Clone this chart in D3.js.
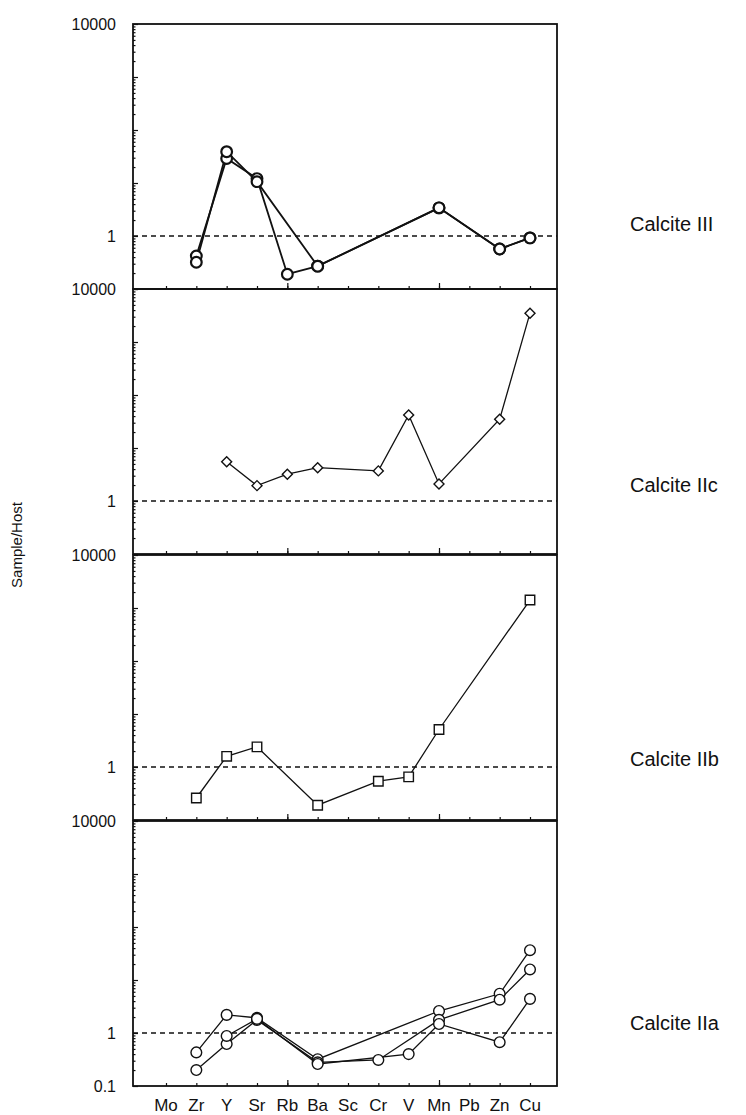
<!DOCTYPE html>
<meta charset="utf-8">
<style>
body{margin:0;background:#fff;}
text{font-family:"Liberation Sans",Arial,sans-serif;fill:#111;}
</style>
<body>
<div id="chart"></div>
<script src="https://d3js.org/d3.v7.min.js"></script>
<script>
// element order along the x axis
var elements = ["Mo","Zr","Y","Sr","Rb","Ba","Sc","Cr","V","Mn","Pb","Zn","Cu"];
var yTickLabels = ["10000", "1", "0.1"];
var panelNames = ["Calcite III", "Calcite IIc", "Calcite IIb", "Calcite IIa"];

// sample/host ratios, null = not plotted
var calcite3_a = [null, 0.42, 29, 12.1, 0.19, 0.27, null, null, null, 3.4, null, 0.57, 0.92];
var calcite3_b = [null, 0.32, 39, 10.6, null, 0.27, null, null, null, 3.4, null, 0.57, 0.92];
var calcite2c  = [null, null, 5.5, 1.95, 3.2, 4.25, null, 3.7, 42, 2.1, null, 35, 3500];
var calcite2b  = [null, 0.26, 1.59, 2.4, null, 0.19, null, 0.54, 0.65, 5.1, null, null, 1415];
var calcite2a_1 = [null, 0.43, 2.2, 1.93, null, 0.32, null, null, null, 2.6, null, 5.5, 36.5];
var calcite2a_2 = [null, 0.2, 0.62, 1.77, null, 0.28, null, 0.31, null, 1.77, null, 4.25, 15.8];
var calcite2a_3 = [null, null, 0.88, 1.85, null, 0.26, null, null, 0.4, 1.48, null, 0.67, 4.4];

var width = 746, height = 1115;
var left = 133, right = 557;
var panelH = 265;
var panelTops = [24, 289, 555, 821];
var nameOffsets = [-12, -16, -8, -10];

var panels = [
	{name: panelNames[0], series: [calcite3_a, calcite3_b], shape: "circle", bold: true},
	{name: panelNames[1], series: [calcite2c], shape: "diamond"},
	{name: panelNames[2], series: [calcite2b], shape: "square"},
	{name: panelNames[3], series: [calcite2a_1, calcite2a_2, calcite2a_3], shape: "circle"}
];

var svg = d3.select("#chart").append("svg")
	.attr("width", width).attr("height", height);

var x = d3.scalePoint().domain(elements).range([166, 530]);
var y = d3.scaleLog().domain([0.1, 10000]).range([panelH, 0]);

var majors = [0.1, 1, 10, 100, 1000, 10000];
var minors = [];
[0.1, 1, 10, 100, 1000].forEach(function(d){
	for(var k = 2; k < 10; k++) minors.push(d*k);
});

var symbols = {
	circle: d3.symbol(d3.symbolCircle, 90),
	square: d3.symbol(d3.symbolSquare, 90),
	diamond: d3.symbol(d3.symbolSquare, 50)
};

panels.forEach(function(p, i){
	var g = svg.append("g").attr("transform", "translate(0," + panelTops[i] + ")");

	// inward ticks on the left side
	g.append("g").attr("transform", "translate(" + left + ",0)")
		.call(d3.axisRight(y).tickValues(minors).tickSize(2.5).tickFormat(""))
		.call(function(a){ a.select(".domain").remove(); });
	g.append("g").attr("transform", "translate(" + left + ",0)")
		.call(d3.axisRight(y).tickValues(majors).tickSize(5).tickFormat(""))
		.call(function(a){ a.select(".domain").remove(); });

	// inward ticks on the bottom side
	g.append("g").attr("transform", "translate(0," + panelH + ")")
		.call(d3.axisTop(x).tickSize(3).tickFormat(""))
		.call(function(a){ a.select(".domain").remove(); });
	g.append("g").attr("transform", "translate(0," + panelH + ")")
		.call(d3.axisTop(x).tickValues(["Rb","Mn"]).tickSize(6).tickFormat(""))
		.call(function(a){ a.select(".domain").remove(); });
	g.selectAll(".tick line").attr("stroke", "#111").attr("stroke-width", 1.2);

	g.append("rect")
		.attr("x", left).attr("y", 0)
		.attr("width", right - left).attr("height", panelH)
		.attr("fill", "none").attr("stroke", "#111").attr("stroke-width", 1.8);

	g.append("line")
		.attr("x1", left).attr("x2", right)
		.attr("y1", y(1)).attr("y2", y(1))
		.attr("stroke", "#111").attr("stroke-width", 1.5)
		.attr("stroke-dasharray", "5,4");

	// y labels
	g.append("text").attr("x", 116).attr("y", y(10000)).attr("dy", "0.35em")
		.attr("text-anchor", "end").style("font-size", "16px").text(yTickLabels[0]);
	g.append("text").attr("x", 116).attr("y", y(1)).attr("dy", "0.35em")
		.attr("text-anchor", "end").style("font-size", "16px").text(yTickLabels[1]);
	if(i == panels.length - 1){
		g.append("text").attr("x", 116).attr("y", y(0.1)).attr("dy", "0.35em")
			.attr("text-anchor", "end").style("font-size", "16px").text(yTickLabels[2]);
	}

	var line = d3.line()
		.x(function(d){ return x(d.el); })
		.y(function(d){ return y(d.v); });

	p.series.forEach(function(s){
		var pts = [];
		s.forEach(function(v, j){ if(v != null) pts.push({el: elements[j], v: v}); });
		g.append("path").datum(pts)
			.attr("d", line)
			.attr("fill", "none").attr("stroke", "#111")
			.attr("stroke-width", p.bold ? 1.8 : 1.3);
	});

	p.series.forEach(function(s){
		var pts = [];
		s.forEach(function(v, j){ if(v != null) pts.push({el: elements[j], v: v}); });
		g.selectAll(null).data(pts).enter().append("path")
			.attr("d", symbols[p.shape])
			.attr("transform", function(d){
				return "translate(" + x(d.el) + "," + y(d.v) + ")" + (p.shape == "diamond" ? " rotate(45)" : "");
			})
			.attr("fill", "#fff").attr("stroke", "#111")
			.attr("stroke-width", p.bold ? 2.2 : 1.4);
	});

	g.append("text").attr("x", 630).attr("y", y(1) + nameOffsets[i]).attr("dy", "0.35em")
		.style("font-size", "20px").text(p.name);
});

// element labels
svg.append("g").selectAll("text").data(elements).enter().append("text")
	.attr("x", function(d){ return x(d); })
	.attr("y", 1105).attr("dy", "0.35em")
	.attr("text-anchor", "middle").style("font-size", "17px")
	.text(function(d){ return d; });

svg.append("text")
	.attr("transform", "translate(22,545) rotate(-90)")
	.attr("text-anchor", "middle").style("font-size", "15px")
	.text("Sample/Host");
</script>
</body>
